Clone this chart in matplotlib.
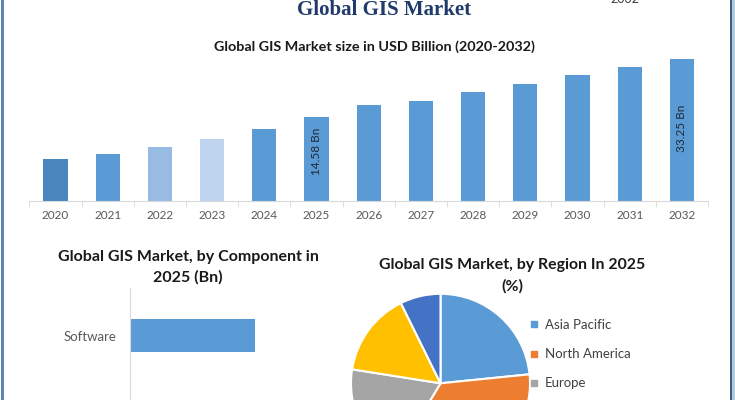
import matplotlib
matplotlib.use("Agg")
import matplotlib.pyplot as plt
from matplotlib.patches import Rectangle
from matplotlib.lines import Line2D

plt.rcParams['font.family'] = ['Lato', 'DejaVu Sans']

# ---------------- data ----------------
years = ['2020', '2021', '2022', '2023', '2024', '2025', '2026',
         '2027', '2028', '2029', '2030', '2031', '2032']
bar_heights = [9.7, 11.0, 12.7, 14.6, 16.9, 19.6, 22.4,
               23.4, 25.4, 27.5, 29.5, 31.3, 33.25]
bar_colors = ['#4A86BE', '#5B9BD5', '#97BBE2', '#BFD4EE'] + ['#5B9BD5'] * 9
bar_labels = {5: '14.58 Bn', 12: '33.25 Bn'}
bar_label_frac = {5: 0.59, 12: 0.51}

components = ['Software']
component_values = [7.3]

regions = ['Asia Pacific', 'North America', 'Europe',
           'Middle East and Africa', 'South America']
region_shares = [23.4, 35.2, 18.9, 15.2, 7.3]
region_colors = ['#5B9BD5', '#ED7D31', '#A5A5A5', '#FFC000', '#4472C4']

W, H = 735, 400
fig = plt.figure(figsize=(W / 100, H / 100), dpi=100)
fig.patch.set_facecolor('white')


def fx(px):
    return px / W


def fy(py):
    return 1 - py / H


# ---------------- titles ----------------
fig.text(fx(384), fy(10), 'Global GIS Market', ha='center', va='center',
         family=['Liberation Serif', 'DejaVu Serif'], fontweight='bold',
         fontsize=15, color='#1F3A6B')
fig.text(fx(625), fy(3), '2032', ha='center', va='baseline', fontsize=9,
         color='#404040')
fig.text(fx(374), fy(47), 'Global GIS Market size in USD Billion (2020-2032)',
         ha='center', va='center', fontweight='bold', fontsize=10.4,
         color='#1a1a1a')

# ---------------- main bar chart ----------------
ax = fig.add_axes([fx(29.4), fy(200.7), fx(708) - fx(29.4), 170.4 / H])
x = list(range(len(years)))
ax.bar(x, bar_heights, width=0.46, color=bar_colors)
ax.set_xlim(-0.5, len(years) - 0.5)
ax.set_ylim(0, 40)
for s in ['top', 'right', 'left']:
    ax.spines[s].set_visible(False)
ax.spines['bottom'].set_color('#D9D9D9')
ax.set_yticks([])
ax.set_xticks(x)
ax.set_xticklabels(years)
ax.set_xticks([i - 0.5 for i in range(len(years) + 1)], minor=True)
ax.tick_params(axis='x', which='major', length=0, pad=7, labelsize=8.5,
               labelcolor='#595959')
ax.tick_params(axis='x', which='minor', length=4, color='#D9D9D9')
for i, lab in bar_labels.items():
    ax.text(i, bar_heights[i] * bar_label_frac[i], lab, rotation=90,
            ha='center', va='center', fontsize=8.5, color='#1E2A38')

# ---------------- component horizontal bar ----------------
fig.text(fx(188), fy(257.3), 'Global GIS Market, by Component in',
         ha='center', va='center', fontweight='bold', fontsize=11.5,
         color='#1a1a1a')
fig.text(fx(188), fy(277.3), '2025 (Bn)', ha='center', va='center',
         fontweight='bold', fontsize=11.5, color='#1a1a1a')

band = 95.0
axh = fig.add_axes([fx(130), fy(288.3 + 1.5 * band), 205.5 / W, 1.5 * band / H])
ypos = list(range(len(components)))
axh.barh(ypos, component_values, height=0.35, color='#5B9BD5')
axh.set_ylim(1.0, -0.5)
axh.set_xlim(0, 12)
for s in ['top', 'right', 'bottom']:
    axh.spines[s].set_visible(False)
axh.spines['left'].set_color('#D9D9D9')
axh.set_xticks([])
axh.set_yticks(ypos)
axh.set_yticklabels(components)
axh.tick_params(axis='y', length=0, pad=9.5, labelsize=9.5,
                labelcolor='#595959')

# ---------------- region pie ----------------
fig.text(fx(512.5), fy(265), 'Global GIS Market, by Region In 2025',
         ha='center', va='center', fontweight='bold', fontsize=11.4,
         color='#1a1a1a')
fig.text(fx(512.5), fy(286.7), '(%)', ha='center', va='center',
         fontweight='bold', fontsize=11.4, color='#1a1a1a')

r = 89.5
side = 2 * 1.25 * r
cx, cy = 440.5, 383.3
axp = fig.add_axes([fx(cx - side / 2), fy(cy + side / 2), side / W, side / H])
axp.pie(region_shares, colors=region_colors, startangle=90, counterclock=False,
        wedgeprops=dict(edgecolor='white', linewidth=1.5))
axp.set_xlim(-1.25, 1.25)
axp.set_ylim(-1.25, 1.25)
axp.set_aspect('equal')

handles = [Line2D([0], [0], marker='s', linestyle='none', markersize=5,
                  markerfacecolor=c, markeredgecolor=c) for c in region_colors]
fig.legend(handles, regions, loc='upper left',
           bbox_to_anchor=(fx(530), fy(319)), frameon=False, fontsize=9.5,
           labelcolor='#404040', handlelength=0.6, handletextpad=0.5,
           labelspacing=1.3, borderaxespad=0, borderpad=0)

# ---------------- frame ----------------
fig.add_artist(Rectangle((fx(1), 0), fx(3), 1, transform=fig.transFigure,
                         facecolor='#5D86B0', edgecolor='none'))
fig.add_artist(Rectangle((fx(730), 0), fx(1.5), 1, transform=fig.transFigure,
                         facecolor='#3E5C7C', edgecolor='none'))
fig.add_artist(Rectangle((fx(731.5), 0), fx(3.5), 1, transform=fig.transFigure,
                         facecolor='#B3CADD', edgecolor='none'))

fig.savefig('out.png', dpi=100)
